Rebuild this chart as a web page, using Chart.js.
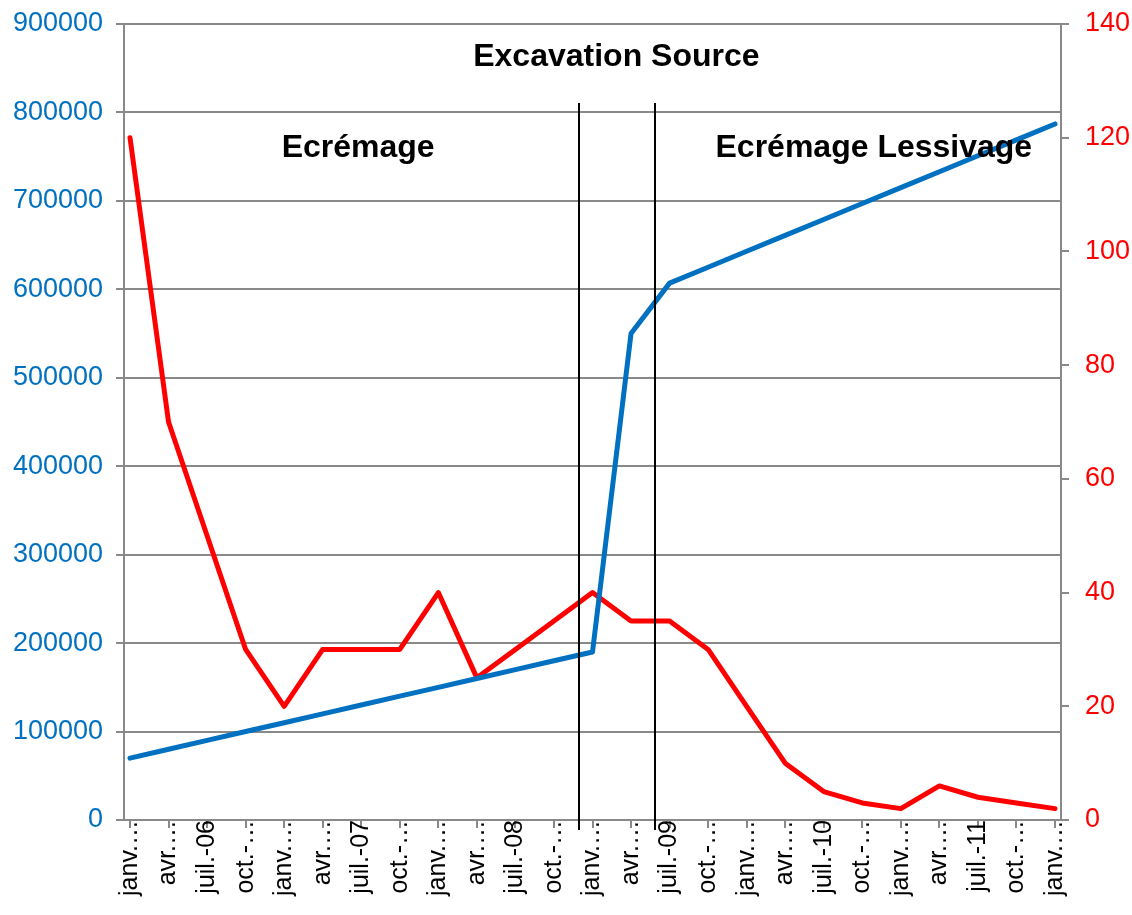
<!DOCTYPE html>
<html>
<head>
<meta charset="utf-8">
<script src="https://cdn.jsdelivr.net/npm/chart.js@4.4.1/dist/chart.umd.min.js"></script>
<style>
  html, body { margin: 0; padding: 0; background: #ffffff; overflow: hidden; }
  #wrap { width: 1132px; height: 915px; position: relative; }
</style>
</head>
<body>
<div id="wrap"><canvas id="chart" width="1132" height="915"></canvas></div>
<script>
// Quarterly sampling dates, janv. 2006 to janv. 2012
const quarterLabels = [
  'janv.…', 'avr.…', 'juil.-06', 'oct.-…',
  'janv.…', 'avr.…', 'juil.-07', 'oct.-…',
  'janv.…', 'avr.…', 'juil.-08', 'oct.-…',
  'janv.…', 'avr.…', 'juil.-09', 'oct.-…',
  'janv.…', 'avr.…', 'juil.-10', 'oct.-…',
  'janv.…', 'avr.…', 'juil.-11', 'oct.-…',
  'janv.…'
];

// Cumulative volume (left axis)
const cumulativeVolume = [
  70000, 80000, 90000, 100000, 110000, 120000, 130000, 140000,
  150000, 160000, 170000, 180000, 190000, 550000, 607000, 625000,
  643000, 661000, 679000, 697000, 715000, 733000, 751000, 769000,
  787000
];

// Measured concentration (right axis)
const concentration = [
  120, 70, 50, 30, 20, 30, 30, 30,
  40, 25, 30, 35, 40, 35, 35, 30,
  20, 10, 5, 3, 2, 6, 4, 3,
  2
];

// Phase boundaries, in quarter-index units
const phaseBoundaries = [11.64, 13.61];
const headerText = 'Excavation Source';
const phaseNames = ['Ecrémage', 'Ecrémage Lessivage'];

const FONT = '"Liberation Sans", Arial, Helvetica, sans-serif';
const GRID = '#898989';

const annotations = {
  id: 'phaseAnnotations',
  afterDatasetsDraw(chart) {
    const { ctx, chartArea, scales } = chart;
    const x = scales.x;
    ctx.save();
    ctx.strokeStyle = '#000000';
    ctx.lineWidth = 2;
    phaseBoundaries.forEach(b => {
      const px = Math.round(x.getPixelForValue(b));
      ctx.beginPath();
      ctx.moveTo(px, chartArea.top + 79);
      ctx.lineTo(px, chartArea.bottom + 10);
      ctx.stroke();
    });
    ctx.fillStyle = '#000000';
    ctx.font = 'bold 32px ' + FONT;
    ctx.textAlign = 'center';
    ctx.textBaseline = 'middle';
    ctx.fillText(headerText, x.getPixelForValue(12.62), chartArea.top + 33);
    ctx.fillText(phaseNames[0], x.getPixelForValue(5.92), chartArea.top + 124);
    ctx.fillText(phaseNames[1], x.getPixelForValue(19.3), chartArea.top + 124);
    ctx.restore();
  }
};

// Fixed axis widths; vertical label overflow is absorbed by the layout padding
const fitVertical = width => s => {
  s.width = width;
  s.paddingTop = 0;
  s.paddingBottom = 0;
};

new Chart(document.getElementById('chart'), {
  type: 'line',
  data: {
    datasets: [
      {
        label: 'Volume',
        data: cumulativeVolume.map((v, i) => ({ x: i, y: v })),
        yAxisID: 'y',
        borderColor: '#0070C0',
        backgroundColor: '#0070C0',
        borderWidth: 5,
        pointRadius: 0,
        tension: 0,
        borderCapStyle: 'round',
        borderJoinStyle: 'round'
      },
      {
        label: 'Concentration',
        data: concentration.map((v, i) => ({ x: i, y: v })),
        yAxisID: 'y1',
        borderColor: '#FF0000',
        backgroundColor: '#FF0000',
        borderWidth: 5,
        pointRadius: 0,
        tension: 0,
        borderCapStyle: 'round',
        borderJoinStyle: 'round'
      }
    ]
  },
  options: {
    responsive: false,
    animation: false,
    devicePixelRatio: 1,
    layout: { padding: { top: 24, left: 0, right: 0, bottom: 0 } },
    plugins: { legend: { display: false }, tooltip: { enabled: false }, title: { display: false } },
    scales: {
      x: {
        type: 'linear',
        min: -0.156,
        max: quarterLabels.length - 1 + 0.156,
        afterBuildTicks: s => { s.ticks = quarterLabels.map((_, i) => ({ value: i })); },
        afterFit: s => { s.height = 95; s.paddingLeft = 0; s.paddingRight = 0; },
        ticks: {
          autoSkip: false,
          minRotation: 90,
          maxRotation: 90,
          padding: -8,
          color: '#000000',
          font: { family: FONT, size: 25 },
          callback: v => quarterLabels[v]
        },
        grid: { drawOnChartArea: false, drawTicks: true, tickLength: 8, color: GRID, lineWidth: 2 },
        border: { color: GRID, width: 2 }
      },
      y: {
        position: 'left',
        min: 0,
        max: 900000,
        afterFit: fitVertical(124),
        ticks: {
          stepSize: 100000,
          padding: 13,
          color: '#0070C0',
          font: { family: FONT, size: 27 },
          callback: v => String(v)
        },
        grid: { color: GRID, lineWidth: 2, tickLength: 8 },
        border: { color: GRID, width: 2 }
      },
      y1: {
        position: 'right',
        min: 0,
        max: 140,
        afterFit: fitVertical(71),
        ticks: {
          stepSize: 20,
          padding: 16,
          color: '#FF0000',
          font: { family: FONT, size: 27 },
          callback: v => String(v)
        },
        grid: { drawOnChartArea: false, color: GRID, lineWidth: 2, tickLength: 8 },
        border: { color: GRID, width: 2 }
      }
    }
  },
  plugins: [annotations]
});
</script>
</body>
</html>
